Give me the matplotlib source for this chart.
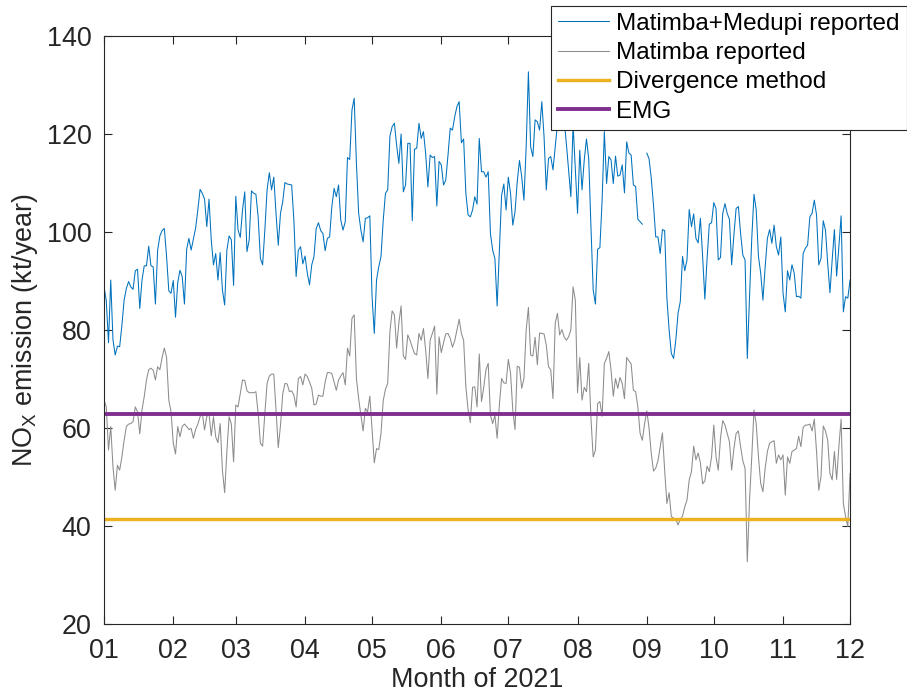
import numpy as np
import matplotlib
matplotlib.use("Agg")
import matplotlib.pyplot as plt
import matplotlib.dates as mdates

plt.rcParams['font.family'] = ['Liberation Sans', 'DejaVu Sans']
plt.rcParams['mathtext.fontset'] = 'custom'
plt.rcParams['mathtext.rm'] = 'Liberation Sans'

# daily values, 1 Jan 2021 .. 1 Dec 2021 (kt/year)
start_day = np.datetime64('2021-01-01')

matimba_medupi = [
    88.8, 86.0, 77.4, 90.2, 78.0, 74.9, 76.7, 76.6, 81.0, 86.1,
    88.5, 89.9, 88.8, 88.3, 92.1, 92.4, 84.4, 90.2, 93.1, 93.1,
    97.1, 93.1, 92.9, 85.3, 96.3, 99.2, 100.3, 100.7, 95.0, 88.0,
    87.5, 90.1, 82.6, 89.7, 92.2, 90.9, 85.3, 96.5, 98.7, 96.3,
    98.5, 100.8, 104.5, 108.7, 107.9, 106.7, 101.1, 106.7, 98.4, 93.3,
    95.6, 90.2, 95.8, 88.2, 85.1, 96.3, 99.2, 98.4, 89.1, 107.3,
    100.4, 98.9, 104.5, 108.2, 96.0, 98.4, 108.4, 107.9, 107.7, 103.1,
    94.6, 93.3, 100.4, 108.6, 112.1, 108.6, 111.2, 103.8, 97.3, 103.8,
    106.2, 110.1, 109.8, 109.7, 109.6, 102.4, 90.9, 96.3, 97.0, 93.5,
    95.1, 91.6, 89.2, 93.3, 95.0, 100.7, 101.9, 100.3, 99.7, 96.2,
    98.7, 99.0, 105.2, 108.9, 107.2, 109.6, 102.4, 100.4, 102.1, 115.2,
    114.8, 124.9, 127.3, 114.0, 103.8, 100.4, 98.0, 102.8, 102.9, 103.3,
    86.8, 79.3, 90.2, 92.9, 95.0, 102.4, 107.9, 108.6, 119.6, 121.5,
    122.2, 117.7, 114.0, 120.0, 108.2, 109.6, 118.1, 118.1, 102.3, 116.9,
    117.1, 122.2, 119.1, 120.5, 116.0, 109.2, 115.7, 115.2, 115.4, 105.3,
    114.4, 113.7, 109.6, 110.6, 115.7, 121.2, 120.8, 123.5, 125.6, 126.6,
    118.2, 119.0, 107.9, 103.5, 103.1, 104.5, 107.2, 105.7, 119.1, 112.3,
    112.3, 111.2, 112.3, 99.7, 96.3, 94.6, 84.9, 96.3, 107.5, 109.8,
    104.5, 111.2, 107.9, 101.4, 104.1, 110.3, 114.6, 111.3, 106.5, 117.4,
    132.7, 117.4, 115.4, 122.9, 122.5, 120.8, 126.6, 119.5, 108.6, 115.0,
    115.4, 112.7, 117.4, 122.0, 125.0, 121.0, 123.0, 118.0, 112.7, 107.2,
    122.0, 112.7, 103.8, 116.7, 108.6, 114.7, 119.0, 115.0, 101.1, 88.2,
    85.3, 96.5, 96.8, 106.5, 120.5, 109.9, 115.4, 114.7, 109.9, 115.5,
    111.4, 111.6, 113.7, 108.0, 118.4, 116.1, 115.7, 109.6, 109.3, 102.6,
    102.1, 101.6, np.nan, 116.1, 115.0, 111.0, 105.5, 99.0, 99.0, 95.6,
    100.5, 100.3, 86.5, 80.0, 75.2, 74.2, 78.0, 83.4, 85.8, 95.0,
    92.1, 94.3, 104.6, 101.1, 103.7, 98.7, 97.8, 102.8, 95.0, 86.3,
    94.6, 101.6, 101.9, 106.0, 104.8, 94.3, 94.8, 103.8, 105.8, 103.8,
    102.6, 93.3, 99.4, 104.8, 105.2, 99.7, 95.3, 94.3, 74.2, 86.8,
    98.7, 107.7, 104.5, 95.0, 91.6, 86.1, 92.9, 98.7, 100.5, 97.7,
    101.4, 97.0, 95.3, 99.0, 87.5, 83.7, 92.1, 90.2, 93.3, 91.6,
    86.8, 86.9, 86.5, 95.6, 96.7, 97.3, 103.1, 103.8, 106.5, 103.5,
    93.3, 94.6, 102.3, 100.4, 93.6, 87.6, 94.3, 100.5, 91.0, 97.0,
    103.3, 83.7, 86.8, 86.5, 90.2,
]

matimba = [
    65.7, 64.3, 55.5, 60.3, 52.1, 47.3, 52.4, 51.4, 54.1, 57.5,
    60.3, 60.8, 60.9, 61.3, 64.3, 63.3, 58.8, 63.7, 66.4, 69.8,
    71.9, 72.2, 71.8, 69.8, 72.5, 71.9, 74.4, 76.3, 74.4, 65.7,
    63.3, 56.9, 54.7, 60.3, 58.2, 60.3, 60.8, 60.3, 59.7, 59.9,
    57.9, 59.7, 60.8, 62.3, 63.0, 59.6, 62.3, 63.0, 58.4, 62.3,
    58.2, 57.0, 60.9, 51.4, 46.8, 55.2, 62.3, 60.8, 53.1, 64.7,
    64.3, 67.1, 69.8, 69.7, 67.6, 67.2, 67.2, 67.2, 67.4, 63.0,
    56.9, 56.3, 63.0, 69.1, 70.6, 71.0, 71.0, 63.7, 56.0, 60.5,
    66.9, 69.1, 69.0, 67.4, 67.6, 66.7, 64.3, 70.1, 70.5, 68.8,
    71.0, 70.5, 69.4, 68.1, 64.7, 64.9, 66.7, 66.5, 66.5, 69.4,
    71.3, 71.3, 71.1, 69.4, 67.7, 69.8, 70.6, 71.3, 68.8, 76.3,
    74.7, 82.4, 83.1, 70.1, 66.0, 62.6, 59.4, 64.0, 63.3, 66.5,
    59.6, 52.9, 55.8, 55.6, 58.9, 65.6, 67.9, 69.1, 79.7, 83.9,
    83.1, 76.3, 81.4, 84.9, 74.7, 74.0, 79.0, 77.9, 76.5, 75.2,
    74.9, 79.3, 77.9, 80.3, 75.9, 70.1, 77.9, 79.3, 80.8, 66.9,
    78.6, 75.4, 77.4, 79.2, 79.3, 78.3, 76.5, 77.8, 80.0, 82.2,
    79.3, 77.9, 68.4, 63.7, 61.1, 68.3, 68.4, 64.3, 75.1, 65.4,
    68.3, 71.9, 73.2, 62.6, 60.9, 62.6, 57.9, 64.7, 70.1, 69.2,
    69.1, 74.0, 71.2, 63.7, 59.7, 72.6, 72.4, 68.1, 70.1, 80.0,
    84.6, 74.9, 74.7, 78.5, 72.9, 79.4, 79.3, 79.2, 76.9, 72.5,
    71.9, 66.0, 81.4, 83.4, 79.0, 80.1, 78.6, 77.9, 78.6, 80.0,
    88.8, 86.1, 67.2, 74.4, 65.7, 68.3, 67.4, 73.2, 62.0, 54.1,
    55.5, 65.0, 65.4, 62.4, 73.2, 74.2, 75.6, 71.8, 66.5, 70.1,
    68.1, 70.3, 69.1, 66.0, 74.4, 73.7, 73.1, 67.7, 67.4, 64.3,
    58.9, 57.5, 60.8, 63.5, 60.0, 54.8, 51.2, 51.8, 53.3, 56.2,
    59.0, 51.4, 44.6, 46.8, 41.9, 41.6, 41.4, 40.2, 41.4, 42.0,
    43.9, 45.3, 49.4, 51.1, 56.3, 53.5, 54.9, 52.9, 48.6, 49.2,
    52.2, 51.1, 54.1, 60.6, 54.1, 51.4, 57.9, 61.5, 60.6, 58.9,
    57.2, 51.4, 55.8, 58.9, 59.4, 56.2, 53.3, 51.8, 32.7, 45.3,
    54.1, 63.7, 60.8, 54.1, 48.7, 47.0, 51.8, 55.2, 56.9, 57.2,
    57.4, 52.8, 54.5, 53.5, 54.5, 46.3, 54.1, 52.8, 55.2, 55.5,
    55.8, 58.3, 56.2, 60.1, 60.6, 60.6, 60.8, 59.4, 61.8, 55.2,
    47.3, 50.1, 60.4, 59.4, 57.5, 50.7, 49.4, 55.2, 49.5, 56.2,
    61.8, 44.6, 41.9, 39.9, 50.7,
]

divergence_estimate = 41.4
emg_estimate = 62.8

series_labels = ['Matimba+Medupi reported', 'Matimba reported',
                 'Divergence method', 'EMG']

days = start_day + np.arange(len(matimba_medupi))
t0 = days[0]
t1 = np.datetime64('2021-12-01')

fig = plt.figure(figsize=(9.07, 6.93), dpi=100)
ax = fig.add_axes([0.1147, 0.0996, 0.8225, 0.8484])

ax.plot(days, matimba_medupi, color='#0072BD', lw=0.75, label=series_labels[0])
ax.plot(days, matimba, color='#8c8c8c', lw=0.75, label=series_labels[1])
ax.plot([t0, t1], [divergence_estimate] * 2, color='#EDB120', lw=2.4,
        label=series_labels[2])
ax.plot([t0, t1], [emg_estimate] * 2, color='#7E2F8E', lw=2.8,
        label=series_labels[3])

ax.set_xlim(t0, t1)
ax.set_ylim(20, 140)
ax.set_yticks(np.arange(20, 141, 20))
ax.xaxis.set_major_locator(mdates.MonthLocator())
ax.xaxis.set_major_formatter(mdates.DateFormatter('%m'))

axis_col = '#262626'
fs = 19.4
for sp in ax.spines.values():
    sp.set_color(axis_col)
    sp.set_linewidth(0.8)
ax.tick_params(direction='in', length=6, width=0.8, color=axis_col,
               labelcolor=axis_col, labelsize=fs, top=True, right=True)
ax.tick_params(axis='x', pad=10)
ax.tick_params(axis='y', pad=9)

ax.set_xlabel('Month of 2021', fontsize=fs, color=axis_col, labelpad=2)
ax.set_ylabel(r'NO$_{\mathregular{X}}$ emission (kt/year)', fontsize=fs,
              color=axis_col, labelpad=5)

leg = fig.legend(loc='upper right', bbox_to_anchor=(1.0, 0.992),
                 fontsize=17.5, frameon=True, fancybox=False, framealpha=1,
                 edgecolor=axis_col, borderpad=0.3, labelspacing=0.3,
                 handlelength=2.1, handletextpad=0.3, borderaxespad=0)
leg.get_frame().set_linewidth(0.8)

fig.savefig('out.png', dpi=100)
